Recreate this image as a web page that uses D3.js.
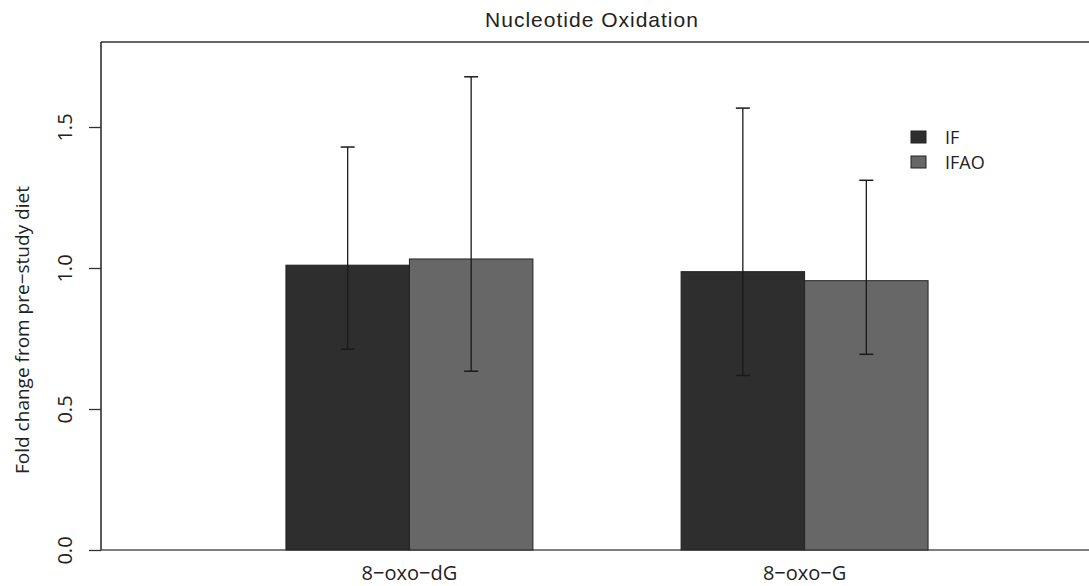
<!DOCTYPE html>
<html>
<head>
<meta charset="utf-8">
<script src="https://cdn.jsdelivr.net/npm/d3@7"></script>
<style>
  body { margin: 0; background: #fff; }
  svg { display: block; }
</style>
</head>
<body>
<svg id="chart" width="1089" height="586"></svg>
<script>
const categories = ["8\u2212oxo\u2212dG", "8\u2212oxo\u2212G"];
const seriesNames = ["IF", "IFAO"];
const seriesColors = ["#2e2e2e", "#676767"];
const ifMeans = [1.01, 0.987];
const ifLower = [0.712, 0.619];
const ifUpper = [1.429, 1.567];
const ifaoMeans = [1.032, 0.955];
const ifaoLower = [0.634, 0.694];
const ifaoUpper = [1.678, 1.311];
const yTicks = [0, 0.5, 1, 1.5];

const width = 1089, height = 586;
const plotLeft = 101, plotTop = 42, plotBottom = 550;
const labelFont = "'Open Sans', sans-serif";

const svg = d3.select("#chart");

// one record per bar
const bars = [];
categories.forEach((cat, i) => {
  bars.push({ cat, series: "IF", mean: ifMeans[i], lo: ifLower[i], hi: ifUpper[i] });
  bars.push({ cat, series: "IFAO", mean: ifaoMeans[i], lo: ifaoLower[i], hi: ifaoUpper[i] });
});

const x0 = d3.scaleBand()
  .domain(categories)
  .range([plotLeft, 1113])
  .paddingInner(0.375)
  .paddingOuter(0.468);

const x1 = d3.scaleBand()
  .domain(seriesNames)
  .range([0, x0.bandwidth()]);

const y = d3.scaleLinear()
  .domain([0, 1.5])
  .range([plotBottom, plotBottom - 3 * 141]);

const color = d3.scaleOrdinal().domain(seriesNames).range(seriesColors);

// frame lines (top and bottom run off the right edge)
svg.append("line")
  .attr("x1", plotLeft).attr("x2", width)
  .attr("y1", plotTop).attr("y2", plotTop)
  .attr("stroke", "#333").attr("stroke-width", 1.5);
svg.append("line")
  .attr("x1", plotLeft).attr("x2", width)
  .attr("y1", plotBottom).attr("y2", plotBottom)
  .attr("stroke", "#555").attr("stroke-width", 1.5);

// bars
svg.append("g")
  .selectAll("rect")
  .data(bars)
  .join("rect")
  .attr("x", d => x0(d.cat) + x1(d.series))
  .attr("y", d => y(d.mean))
  .attr("width", x1.bandwidth())
  .attr("height", d => y(0) - y(d.mean))
  .attr("fill", d => color(d.series))
  .attr("stroke", "#222")
  .attr("stroke-width", 1);

// error bars
const err = svg.append("g")
  .selectAll("g")
  .data(bars)
  .join("g")
  .attr("transform", d => `translate(${x0(d.cat) + x1(d.series) + x1.bandwidth() / 2},0)`);

err.append("line")
  .attr("y1", d => y(d.lo))
  .attr("y2", d => y(d.hi))
  .attr("stroke", "#1a1a1a")
  .attr("stroke-width", 1.3);

err.append("line")
  .attr("x1", -7).attr("x2", 7)
  .attr("y1", d => y(d.hi)).attr("y2", d => y(d.hi))
  .attr("stroke", "#1a1a1a").attr("stroke-width", 1.5);

err.append("line")
  .attr("x1", -7).attr("x2", 7)
  .attr("y1", d => y(d.lo)).attr("y2", d => y(d.lo))
  .attr("stroke", "#1a1a1a").attr("stroke-width", 1.5);

// y axis
const yAxis = svg.append("g")
  .attr("transform", `translate(${plotLeft},0)`)
  .call(d3.axisLeft(y).tickValues(yTicks).tickFormat(d3.format(".1f")).tickSize(12).tickSizeOuter(0));

yAxis.select(".domain")
  .attr("d", `M0,${plotTop}V${plotBottom}`)
  .attr("stroke", "#222")
  .attr("stroke-width", 1.5);

yAxis.selectAll(".tick line")
  .attr("stroke", "#333")
  .attr("stroke-width", 1.3);

yAxis.selectAll(".tick text")
  .attr("x", 0)
  .attr("dy", null)
  .attr("transform", "translate(-29,0) rotate(-90)")
  .attr("text-anchor", "middle")
  .attr("fill", "#222")
  .style("font-family", labelFont)
  .style("font-size", "20px");

// category labels
svg.append("g")
  .selectAll("text")
  .data(categories)
  .join("text")
  .attr("x", d => x0(d) + x0.bandwidth() / 2)
  .attr("y", 580)
  .attr("text-anchor", "middle")
  .attr("fill", "#222")
  .style("font-family", labelFont)
  .style("font-size", "20px")
  .text(d => d);

// y label
svg.append("text")
  .attr("transform", "translate(29,330) rotate(-90)")
  .attr("text-anchor", "middle")
  .attr("fill", "#222")
  .style("font-family", labelFont)
  .style("font-size", "19px")
  .text("Fold change from pre\u2212study diet");

// title
svg.append("text")
  .attr("x", 592)
  .attr("y", 27)
  .attr("text-anchor", "middle")
  .attr("fill", "#222")
  .style("font-family", "'Liberation Sans', Arial, sans-serif")
  .style("font-size", "21px")
  .style("letter-spacing", "1px")
  .text("Nucleotide Oxidation");

// legend
const legend = svg.append("g")
  .selectAll("g")
  .data(seriesNames)
  .join("g")
  .attr("transform", (d, i) => `translate(911,${131 + i * 25})`);

legend.append("rect")
  .attr("width", 15).attr("height", 12)
  .attr("fill", d => color(d))
  .attr("stroke", "#222").attr("stroke-width", 1);

legend.append("text")
  .attr("x", 34)
  .attr("y", 13)
  .attr("fill", "#222")
  .style("font-family", labelFont)
  .style("font-size", "18px")
  .text(d => d);
</script>
</body>
</html>
